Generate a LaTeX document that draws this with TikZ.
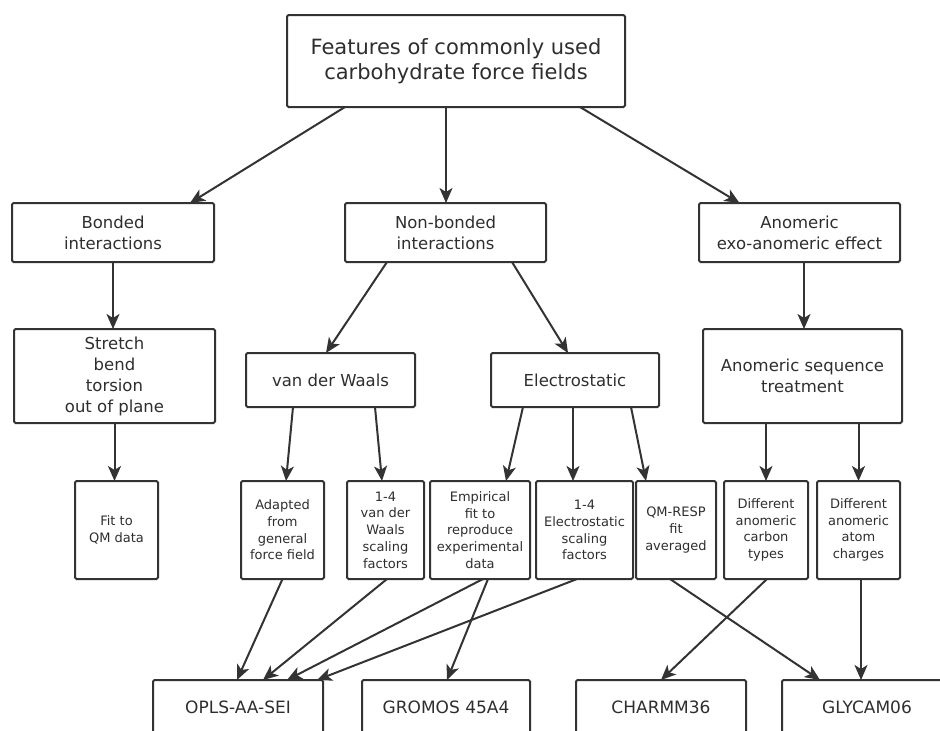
\documentclass[tikz,border=0pt]{standalone}
\usepackage{fontspec}
\setmainfont{DejaVu Sans}
\usepackage{tikz}
\usetikzlibrary{arrows.meta}
\usepackage{xcolor}
\definecolor{ink}{HTML}{333333}

\begin{document}
\begin{tikzpicture}[x=1pt,y=-1pt,line width=2pt,draw=ink,text=ink!90!black,
  >={Stealth[length=15pt,width=13pt,inset=4pt]},
  box/.style={rectangle,draw=ink,rounded corners=1.5pt,align=center,inner sep=0pt,outer sep=0pt},
  headbox/.style={box,font=\fontsize{21}{25}\selectfont},
  catbox/.style={box,font=\fontsize{16.5}{21}\selectfont},
  leafbox/.style={box,minimum height=98pt,font=\fontsize{13}{16.7}\selectfont},
  ffbox/.style={box,minimum width=170pt,minimum height=54pt,font=\fontsize{17}{20}\selectfont}]
\useasboundingbox (0,0) rectangle (940,731);

\node [headbox,minimum width=338pt,minimum height=92pt] (features) at (456,61) {Features of commonly used\\carbohydrate force fields};

\node [catbox,minimum width=202pt,minimum height=59pt] (bonded) at (113,232.5) {Bonded\\interactions};
\node [catbox,minimum width=201pt,minimum height=59pt,right=131pt,at=(bonded.east)] (nonbonded) {Non-bonded\\interactions};
\node [catbox,minimum width=201pt,minimum height=59pt,right=153pt,at=(nonbonded.east)] (anomeric) {Anomeric\\exo-anomeric effect};

\node [catbox,minimum width=201pt,minimum height=94pt] (stretch) at (114.5,376) {Stretch\\bend\\torsion\\out of plane};
\node [catbox,minimum width=169pt,minimum height=54pt] (vdw) at (330.5,380) {van der Waals};
\node [catbox,minimum width=168pt,minimum height=54pt,right=76pt,at=(vdw.east)] (elec) {Electrostatic};
\node [catbox,minimum width=199pt,minimum height=94pt] (sequence) at (802.5,376) {Anomeric sequence\\treatment};

\node [leafbox,minimum width=83pt] (qmfit) at (116.5,530) {Fit to\\QM data};
\node [leafbox,minimum width=83pt,right=83pt,at=(qmfit.east)] (adapted) {Adapted\\from\\general\\force field};
\node [leafbox,minimum width=77pt,right=23pt,at=(adapted.east)] (vdwscale) {1-4\\van der\\Waals\\scaling\\factors};
\node [leafbox,minimum width=100pt,right=6pt,at=(vdwscale.east)] (empirical) {Empirical\\fit to\\reproduce\\experimental\\data};
\node [leafbox,minimum width=97pt,right=6pt,at=(empirical.east)] (elscale) {1-4\\Electrostatic\\scaling\\factors};
\node [leafbox,minimum width=80pt,right=3pt,at=(elscale.east)] (resp) {QM-RESP\\fit\\averaged};
\node [leafbox,minimum width=84pt,right=8pt,at=(resp.east)] (carbon) {Different\\anomeric\\carbon\\types};
\node [leafbox,minimum width=83pt,right=9pt,at=(carbon.east)] (charges) {Different\\anomeric\\atom\\charges};

\node [ffbox] (opls) at (238,707) {OPLS-AA-SEI};
\node [ffbox,minimum width=168pt,right=39pt,at=(opls.east)] (gromos) {GROMOS 45A4};
\node [ffbox,right=46pt,at=(gromos.east)] (charmm) {CHARMM36};
\node [ffbox,right=36pt,at=(charmm.east)] (glycam) {GLYCAM06};

\draw [->] ([xshift=-111pt]features.south) -- ([xshift=77pt]bonded.north);
\draw [->] ([xshift=-10pt]features.south) -- ([xshift=-10pt]features.south |- nonbonded.north);
\draw [->] ([xshift=124pt]features.south) -- ([xshift=-60pt]anomeric.north);
\draw [->] (bonded.south) -- (bonded.south |- stretch.north);
\draw [->] ([xshift=-58.5pt]nonbonded.south) -- ([xshift=-4.5pt]vdw.north);
\draw [->] ([xshift=66.5pt]nonbonded.south) -- ([xshift=-7pt]elec.north);
\draw [->] ([xshift=4.5pt]anomeric.south) -- ([xshift=4.5pt]anomeric.south |- sequence.north);

\draw [->] (stretch.south) -- (stretch.south |- qmfit.north);
\draw [->] ([xshift=-37.5pt]vdw.south) -- ([xshift=3.5pt]adapted.north);
\draw [->] ([xshift=44.5pt]vdw.south) -- ([xshift=-3.5pt]vdwscale.north);
\draw [->] ([xshift=-52pt]elec.south) -- ([xshift=26pt]empirical.north);
\draw [->] ([xshift=-2pt]elec.south) -- ([xshift=-2pt]elec.south |- elscale.north);
\draw [->] ([xshift=56pt]elec.south) -- ([xshift=-30pt]resp.north);
\draw [->] (carbon.north |- sequence.south) -- (carbon.north);
\draw [->] (charges.north |- sequence.south) -- (charges.north);

\draw [->] (adapted.south) -- ([xshift=-1pt]opls.north);
\draw [->] ([xshift=1.5pt]vdwscale.south) -- ([xshift=25pt]opls.north);
\draw [->] ([xshift=3pt]empirical.south) -- ([xshift=49pt]opls.north);
\draw [->] ([xshift=8pt]empirical.south) -- ([xshift=1pt]gromos.north);
\draw [->] ([xshift=-7.5pt]elscale.south) -- ([xshift=79pt]opls.north);
\draw [->] ([xshift=-6pt]resp.south) -- ([xshift=-47pt]glycam.north);
\draw [->] ([xshift=1pt]carbon.south) -- (charmm.north);
\draw [->] ([xshift=2.5pt]charges.south) -- ([xshift=2.5pt]charges.south |- glycam.north);
\end{tikzpicture}
\end{document}
